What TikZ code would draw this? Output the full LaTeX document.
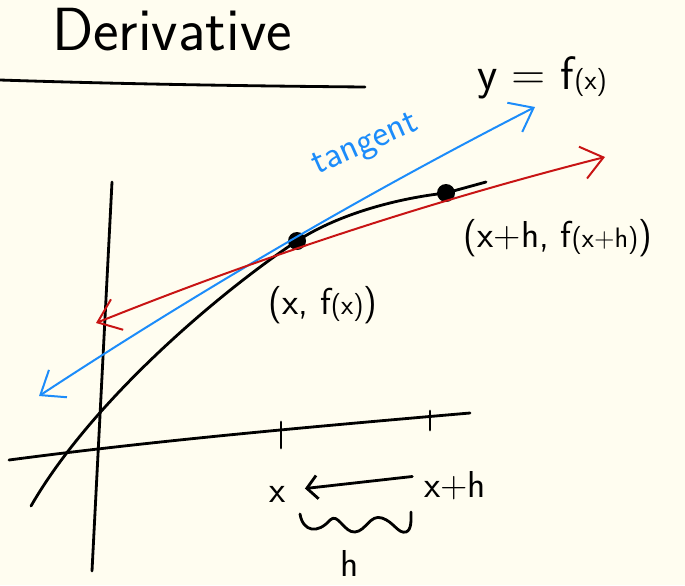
\documentclass[tikz,border=0pt]{standalone}
\usepackage{xcolor}
\usepackage{tikz}
\usetikzlibrary{arrows.meta}
\definecolor{paper}{RGB}{255,253,240}
\definecolor{tangentblue}{RGB}{28,140,250}
\definecolor{secantred}{RGB}{200,20,20}
\newcommand{\klein}[1]{{\fontsize{24}{26}\selectfont #1}}

\begin{document}
\begin{tikzpicture}[x=0.03cm, y=-0.03cm, font=\sffamily,
  ink/.style={line width=2.4pt, line cap=round, line join=round},
  pen/.style={line width=1.7pt, line cap=round, line join=round},
  hand/.style={inner sep=0pt, font=\sffamily\fontsize{32}{34}\selectfont},
  dot/.style={circle, fill=black, inner sep=0pt, minimum size=0.54cm},
  >={Straight Barb[length=18pt,width=28pt]}]
  \useasboundingbox (0,0) rectangle (685,585);
  \fill[paper] (0,0) rectangle (685,585);
  % title and underline
  \node[inner sep=0pt, font=\sffamily\fontsize{52}{54}\selectfont] (title) at (172,30) {Derivative};
  \draw[ink] (0,80) .. controls (120,84) and (250,86) .. (365,87);
  \node[hand, font=\sffamily\fontsize{40}{42}\selectfont] (yfx) at (542,78) {y = f\klein{(x)}};
  % axes
  \coordinate (yTop) at (112,182);
  \coordinate (yBot) at (92,571);
  \draw[ink] (yTop) -- (yBot);
  \coordinate (xL) at (9,460);
  \coordinate (xR) at (470,413);
  \draw[ink] (xL) .. controls (160,440) and (320,426) .. (xR);
  \draw[ink] (281,422) -- (281,448);
  \draw[ink] (430,411) -- (430,430);
  % curve and points
  \node[dot] (px) at (297,241) {};
  \node[dot] (pxh) at (446,193) {};
  \coordinate (cStart) at (31,506);
  \coordinate (cEnd) at (486,182);
  \draw[ink] (cStart) .. controls (95,395) and (230,285) .. (px.center)
    .. controls (340,213) and (400,198) .. (pxh.center) -- (cEnd);
  % tangent and secant
  \coordinate (tanA) at (39,396);
  \coordinate (tanB) at (535,107);
  \draw[pen, tangentblue, <->] (tanA) .. controls (199,291) and (365,194) .. (tanB);
  \coordinate (secA) at (96,323);
  \coordinate (secB) at (605,157);
  \draw[pen, secantred, <->] (secA) .. controls (263,256) and (432,201) .. (secB);
  \node[hand, text=tangentblue, rotate=24] (tanlab) at (366,146) {tangent};
  % labels
  \node[hand] (pxlab) at (323,305) {(x, f\klein{(x)})};
  \node[hand] (pxhlab) at (558,238) {(x+h, f\klein{(x+h)})};
  \node[hand, anchor=base] (xlab) at (278,502) {x};
  \node[hand, anchor=base] (xhlab) at (455,497) {x+h};
  \draw[ink, -{Straight Barb[length=9pt,width=20pt]}, shorten >=16pt, shorten <=10pt]
    ([yshift=0.3cm]xhlab.west) -- ([yshift=0.1cm]xlab.east);
  \draw[ink] (300,514) .. controls (303,532) and (318,534) .. (330,520)
    .. controls (338,512) and (344,533) .. (355,532)
    .. controls (366,531) and (370,514) .. (382,518)
    .. controls (394,522) and (398,534) .. (406,532)
    .. controls (412,530) and (411,518) .. (411,512);
  \node[hand] (hlab) at (350,563) {h};
\end{tikzpicture}
\end{document}
